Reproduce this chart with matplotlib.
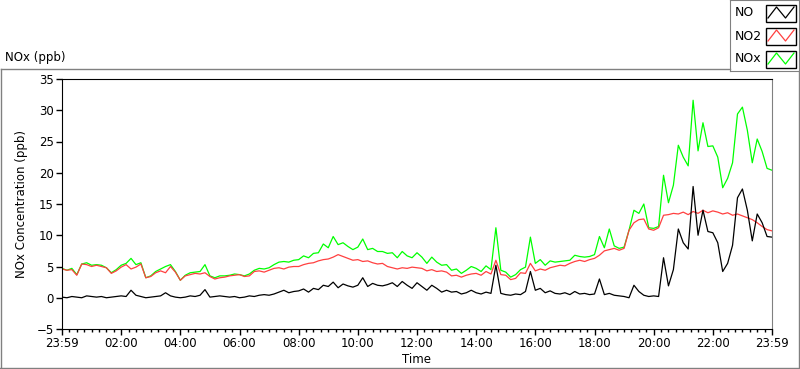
import numpy as np
import matplotlib.pyplot as plt
from matplotlib.lines import Line2D

# values every 10 minutes from 23:59 to 23:59 (ppb)
no2 = [4.6, 4.4, 4.5, 3.6, 5.4, 5.3,
       5.0, 5.2, 5.0, 4.8, 3.9, 4.3,
       4.9, 5.3, 4.6, 4.9, 5.4, 3.2,
       3.4, 4.0, 4.3, 4.0, 5.0, 4.1,
       2.8, 3.5, 3.7, 3.9, 3.8, 4.0,
       3.4, 3.0, 3.2, 3.3, 3.5, 3.6,
       3.7, 3.4, 3.5, 4.2, 4.3, 4.1,
       4.4, 4.7, 4.8, 4.6, 4.9, 5.0,
       5.0, 5.3, 5.5, 5.6, 5.9, 6.1,
       6.2, 6.5, 6.9, 6.6, 6.3, 6.0,
       6.1, 5.8, 5.9, 5.6, 5.4, 5.5,
       5.0, 4.8, 4.6, 4.8, 4.7, 4.9,
       4.8, 4.7, 4.3, 4.5, 4.2, 4.3,
       4.1, 3.5, 3.6, 3.3, 3.6, 3.8,
       3.9, 3.6, 4.2, 3.8, 6.0, 3.7,
       3.6, 2.9, 3.1, 4.0, 3.9, 5.5,
       4.3, 4.6, 4.4, 4.8, 5.0, 5.2,
       5.1, 5.5, 5.8, 6.0, 5.8, 6.1,
       6.3, 6.8, 7.5, 7.7, 7.9, 7.6,
       7.9, 10.8, 12.0, 12.5, 12.6, 11.0,
       10.8, 11.2, 13.2, 13.3, 13.5, 13.4,
       13.7, 13.3, 13.8, 13.5, 14.0, 13.6,
       13.9, 13.7, 13.4, 13.6, 13.2, 13.4,
       13.1, 12.8, 12.5, 12.0, 11.4, 10.9,
       10.7]

no = [0.1, 0.0, 0.2, 0.1, 0.0, 0.3,
      0.2, 0.1, 0.2, 0.0, 0.1, 0.2,
      0.3, 0.2, 1.2, 0.4, 0.2, 0.0,
      0.1, 0.2, 0.3, 0.8, 0.3, 0.1,
      0.0, 0.1, 0.3, 0.2, 0.4, 1.3,
      0.1, 0.2, 0.3, 0.2, 0.1, 0.2,
      0.0, 0.1, 0.3, 0.2, 0.4, 0.5,
      0.4, 0.6, 0.9, 1.2, 0.8, 1.0,
      1.1, 1.4, 0.9, 1.5, 1.3, 2.0,
      1.8, 2.5, 1.6, 2.2, 1.9, 1.7,
      2.0, 3.2, 1.8, 2.3, 2.0, 1.9,
      2.1, 2.4, 1.8, 2.6, 2.0, 1.5,
      2.4, 1.8, 1.2, 2.0, 1.5, 0.9,
      1.2, 0.9, 1.0, 0.6, 0.8, 1.2,
      0.8, 0.6, 0.9, 0.7, 5.2, 0.7,
      0.5, 0.4, 0.6, 0.5, 1.0, 4.2,
      1.2, 1.5, 0.8, 1.1, 0.7, 0.6,
      0.8, 0.5, 1.0, 0.6, 0.7, 0.5,
      0.6, 3.0, 0.5, 0.7, 0.4, 0.3,
      0.2, 0.0, 2.0, 1.0, 0.4, 0.2,
      0.3, 0.2, 6.4, 1.9, 4.5, 11.0,
      8.8, 7.8, 17.8, 10.0, 14.0, 10.6,
      10.4, 8.8, 4.2, 5.5, 8.4, 16.0,
      17.4, 14.0, 9.1, 13.4, 12.0, 9.8,
      9.7]

nox = [4.7, 4.4, 4.7, 3.7, 5.4, 5.6,
       5.2, 5.3, 5.2, 4.8, 4.0, 4.5,
       5.2, 5.5, 6.3, 5.3, 5.6, 3.2,
       3.5, 4.2, 4.6, 5.0, 5.3, 4.2,
       2.8, 3.6, 4.0, 4.1, 4.2, 5.3,
       3.5, 3.2, 3.5, 3.5, 3.6, 3.8,
       3.7, 3.5, 3.8, 4.4, 4.7, 4.6,
       4.8, 5.3, 5.7, 5.8, 5.7, 6.0,
       6.1, 6.7, 6.4, 7.1, 7.2, 8.6,
       8.0, 9.8, 8.5, 8.8, 8.2, 7.7,
       8.1, 9.4, 7.7, 7.9, 7.4, 7.4,
       7.1, 7.2, 6.4, 7.4, 6.7, 6.4,
       7.2, 6.5, 5.5, 6.5, 5.7, 5.2,
       5.3, 4.4, 4.6, 3.9, 4.4, 5.0,
       4.7, 4.2, 5.1, 4.5, 11.2, 4.4,
       4.1, 3.3, 3.7, 4.5, 4.9, 9.7,
       5.5, 6.1, 5.2, 5.9, 5.7, 5.8,
       5.9, 6.0, 6.8, 6.6, 6.5, 6.6,
       6.9, 9.8, 8.0, 11.0, 8.3, 7.9,
       8.1, 10.8, 14.0, 13.5, 15.0, 11.2,
       11.1, 11.4, 19.6, 15.2, 18.0, 24.4,
       22.5, 21.1, 31.6, 23.5, 28.0, 24.2,
       24.3, 22.5, 17.6, 19.1, 21.6, 29.4,
       30.5, 26.8, 21.6, 25.4, 23.4, 20.7,
       20.4]

hours = np.arange(len(no)) / 6.0
tick_pos = list(range(0, 25, 2))
tick_lab = ['23:59'] + ['%02d:00' % h for h in range(2, 24, 2)] + ['23:59']

series = [('NO', no, 'black'), ('NO2', no2, '#ff4040'), ('NOx', nox, '#00ff00')]

fig = plt.figure(figsize=(8, 3.69), dpi=100)
ax = fig.add_axes([62/800, 1-329/369, 710/800, 250/369])

ax.plot(hours, nox, color='#00ff00', lw=0.9)
ax.plot(hours, no2, color='#ff4040', lw=0.9)
ax.plot(hours, no, color='black', lw=0.9)

ax.set_xlim(0, 24)
ax.set_ylim(-5, 35)
ax.set_yticks(range(-5, 36, 5))
ax.set_xticks(tick_pos)
ax.set_xticklabels(tick_lab)
ax.set_xticks(np.arange(0, 24.01, 0.25), minor=True)
ax.tick_params(axis='both', direction='out', labelsize=8.5, length=4, width=1, pad=2)
ax.tick_params(axis='x', which='minor', length=2.5, width=1)
for s in ['left', 'bottom', 'top']:
    ax.spines[s].set_color('black')
ax.spines['right'].set_color('#808080')
ax.set_xlabel('Time', fontsize=8.5, labelpad=2)
ax.set_ylabel('NOx Concentration (ppb)', fontsize=8.5, labelpad=6)

fig.text(5/800, 1-57/369, 'NOx (ppb)', fontsize=8.5, va='center', ha='left')

# outer gray panel frame
gray = '#808080'
fig.add_artist(Line2D([0.5/800, 730/800], [1-69/369, 1-69/369], color=gray, lw=1))
fig.add_artist(Line2D([0.5/800, 0.5/800], [1-69/369, 0.5/369], color=gray, lw=1))
fig.add_artist(Line2D([0, 1], [1/369, 1/369], color=gray, lw=1))
fig.add_artist(Line2D([799/800, 799/800], [0, 1-71/369], color=gray, lw=1))

# legend box
lg = fig.add_axes([730/800, 1-71/369, 69/800, 71/369])
lg.set_xlim(0, 69)
lg.set_ylim(71, 0)
lg.set_xticks([])
lg.set_yticks([])
for s in lg.spines.values():
    s.set_color(gray)
for i, (name, vals, c) in enumerate(series):
    yc = 13 + i * 23
    lg.text(5, yc, name, fontsize=9, va='center', ha='left')
    lg.add_patch(plt.Rectangle((36, yc - 8), 30, 17, fill=False, ec='black', lw=1))
    lg.plot([38, 46.5, 55.5, 64], [yc + 5, yc - 6, yc + 5, yc - 6], color=c, lw=0.9)

fig.savefig('out.png', dpi=100)
